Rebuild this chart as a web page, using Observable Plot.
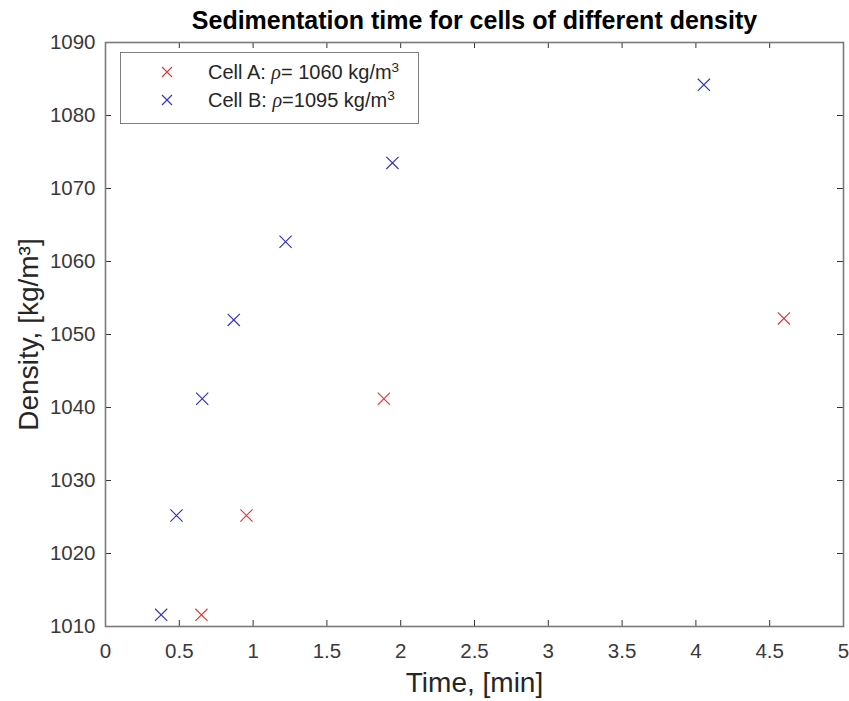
<!DOCTYPE html>
<html>
<head>
<meta charset="utf-8">
<script src="https://cdn.jsdelivr.net/npm/d3@7"></script>
<script src="https://cdn.jsdelivr.net/npm/@observablehq/plot@0.6"></script>
<style>
  html, body { margin: 0; padding: 0; background: #fff; }
  #wrap { position: relative; width: 849px; height: 701px; font-family: "Liberation Sans", Arial, Helvetica, sans-serif; }
  #legend { position: absolute; left: 120px; top: 52px; width: 297px; height: 70px; border: 1.5px solid #7f7f7f; background: #fff; color: #262626; font-size: 20px; }
  .entry { position: absolute; left: 0; height: 24px; line-height: 24px; white-space: nowrap; }
  .entry svg { position: absolute; left: 40px; top: 6px; }
  .entry span.lbl { position: absolute; left: 87px; top: 0; }
  .rho { font-family: "Liberation Serif", "DejaVu Serif", serif; font-style: italic; }
  sup { font-size: 0.68em; vertical-align: 0; position: relative; top: -0.55em; }
</style>
</head>
<body>
<div id="wrap"></div>
<script>
// ---- data ----
const cellATime = [0.650, 0.955, 1.886, 4.596];
const cellADensity = [1011.6, 1025.2, 1041.2, 1052.2];
const cellBTime = [0.377, 0.481, 0.655, 0.869, 1.220, 1.944, 4.054];
const cellBDensity = [1011.6, 1025.2, 1041.2, 1052.0, 1062.7, 1073.5, 1084.2];
const xTicks = [0, 0.5, 1, 1.5, 2, 2.5, 3, 3.5, 4, 4.5, 5];
const yTicks = [1010, 1020, 1030, 1040, 1050, 1060, 1070, 1080, 1090];
const seriesNames = ["Cell A", "Cell B"];
const seriesColors = ["#e23a3a", "#3434c4"];
const titleText = "Sedimentation time for cells of different density";
const xLabel = "Time, [min]";
const yLabel = "Density, [kg/m³]";

const cellA = cellATime.map((t, i) => ({time: t, density: cellADensity[i]}));
const cellB = cellBTime.map((t, i) => ({time: t, density: cellBDensity[i]}));

const W = 849, H = 701;
const mT = 42, mB = 75, mL = 105, mR = 6;
const innerW = W - mL - mR, innerH = H - mT - mB;
const tickLen = 6;

const chart = Plot.plot({
  width: W, height: H,
  marginTop: mT, marginBottom: mB, marginLeft: mL, marginRight: mR,
  style: {fontFamily: '"Liberation Sans", Arial, Helvetica, sans-serif', background: "#fff", color: "#333"},
  x: {domain: [0, 5], label: null},
  y: {domain: [1010, 1090], label: null},
  marks: [
    // inward ticks on all four sides
    Plot.tickX(xTicks, {x: d => d, insetTop: innerH - tickLen, stroke: "#333", strokeWidth: 1}),
    Plot.tickX(xTicks, {x: d => d, insetBottom: innerH - tickLen, stroke: "#333", strokeWidth: 1}),
    Plot.tickY(yTicks, {y: d => d, insetRight: innerW - tickLen, stroke: "#333", strokeWidth: 1}),
    Plot.tickY(yTicks, {y: d => d, insetLeft: innerW - tickLen, stroke: "#333", strokeWidth: 1}),
    Plot.frame({stroke: "#7a7a7a", strokeWidth: 1.6}),
    Plot.axisX({ticks: xTicks, tickSize: 0, tickPadding: 17, fontSize: 20.5, tickFormat: d => String(d), label: null, fill: "#3a3a3a"}),
    Plot.axisY({ticks: yTicks, tickSize: 0, tickPadding: 10, fontSize: 20.5, tickFormat: d => String(d), label: null, fill: "#3a3a3a"}),
    Plot.dot(cellA, {x: "time", y: "density", symbol: "times", r: 5.6, stroke: seriesColors[0], strokeWidth: 1.2}),
    Plot.dot(cellB, {x: "time", y: "density", symbol: "times", r: 5.6, stroke: seriesColors[1], strokeWidth: 1.2}),
    Plot.text([titleText], {text: d => d, frameAnchor: "top", dy: -22, fontSize: 25, fontWeight: "bold", fill: "#000", lineAnchor: "middle"}),
    Plot.text([xLabel], {text: d => d, frameAnchor: "bottom", dy: 57, fontSize: 28, fill: "#262626", lineAnchor: "middle"}),
    Plot.text([yLabel], {text: d => d, frameAnchor: "left", textAnchor: "middle", dx: -76, rotate: -90, fontSize: 28, fill: "#262626", lineAnchor: "middle"})
  ]
});

const wrap = document.getElementById("wrap");
wrap.appendChild(chart);

// legend (HTML overlay, boxed like the MATLAB legend)
const legend = document.createElement("div");
legend.id = "legend";
const legendTexts = [
  `${seriesNames[0]}: <span class="rho">ρ</span>= 1060 kg/m<sup>3</sup>`,
  `${seriesNames[1]}: <span class="rho">ρ</span>=1095 kg/m<sup>3</sup>`
];
const entryTops = [7, 35];
legendTexts.forEach((html, i) => {
  const e = document.createElement("div");
  e.className = "entry";
  e.style.top = entryTops[i] + "px";
  e.innerHTML = `<svg width="12" height="12" viewBox="0 0 12 12"><path d="M1,1L11,11M11,1L1,11" stroke="${seriesColors[i]}" stroke-width="1.2"/></svg><span class="lbl">${html}</span>`;
  legend.appendChild(e);
});
wrap.appendChild(legend);
</script>
</body>
</html>
